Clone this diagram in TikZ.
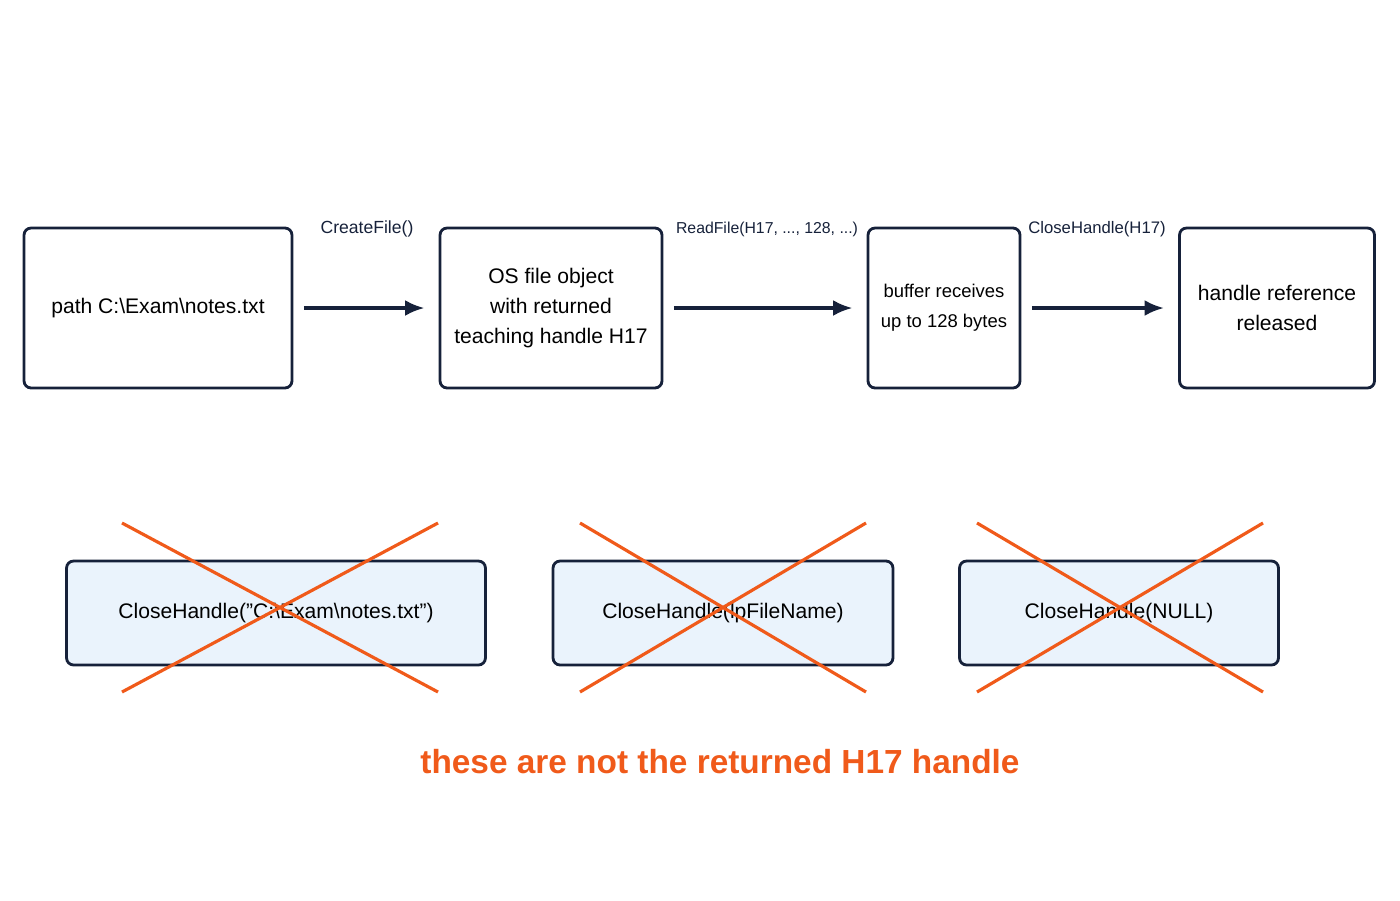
\documentclass[tikz,border=0pt]{standalone}
\usepackage{fontspec}
\setmainfont{Liberation Sans}
\usetikzlibrary{arrows.meta}
\definecolor{navy}{HTML}{16213A}
\definecolor{paleblue}{HTML}{EAF3FC}
\definecolor{crossred}{HTML}{F05A1A}
\begin{document}
\begin{tikzpicture}[
	x=0.02cm, y=-0.02cm,
	stage/.style={
		rectangle,
		rounded corners=4pt,
		draw=navy,
		line width=1.6pt,
		inner sep=1pt,
		text centered,
		align=center,
		font=\fontsize{12}{17}\selectfont
		},
	wrong/.style={
		stage,
		fill=paleblue,
		minimum height=2.08cm
	},
	call/.style={
		font=\fontsize{10}{12}\selectfont,
		text=navy
	},
	flow/.style={
		-{Latex[length=11pt,width=9pt]},
		draw=navy,
		line width=2pt,
		shorten <=6pt,
		shorten >=8pt
	},
	cross/.style={
		draw=crossred,
		line width=1.8pt
	}
]
\useasboundingbox (0,0) rectangle (1400,900);

% Flow boxes
\node [stage, minimum width=5.36cm, minimum height=3.2cm] (Path) at (158,308) {path C:\textbackslash Exam\textbackslash notes.txt};
\node [stage, minimum width=4.44cm, minimum height=3.2cm] (Object) at (551,308) {OS file object\\with returned\\teaching handle H17};
\node [stage, minimum width=3.04cm, minimum height=3.2cm, font=\fontsize{10.5}{17}\selectfont] (Buffer) at (944,308) {buffer receives\\up to 128 bytes};
\node [stage, minimum width=3.9cm, minimum height=3.2cm] (Released) at (1277,308) {handle reference\\released};

% Connectors
\draw [flow] (Path) -- (Object);
\draw [flow] (Object) -- (Buffer);
\draw [flow] (Buffer) -- (Released);

% Call labels
\node [call] (Create) at (367,229) {CreateFile()};
\node [call, font=\fontsize{9}{11}\selectfont] (Read) at (767,229) {ReadFile(H17, ..., 128, ...)};
\node [call, font=\fontsize{9.5}{11}\selectfont] (Close) at (1097,229) {CloseHandle(H17)};

% Wrong calls
\node [wrong, minimum width=8.38cm] (WrongPath) at (276,613) {CloseHandle(\symbol{34}C:\textbackslash Exam\textbackslash notes.txt\symbol{34})};
\node [wrong, minimum width=6.8cm] (WrongName) at (723,613) {CloseHandle(lpFileName)};
\node [wrong, minimum width=6.38cm] (WrongNull) at (1119,613) {CloseHandle(NULL)};

% Crosses
\foreach \cx/\w in {280/158, 723/143, 1120/143} {
	\draw [cross] (\cx-\w,523) -- (\cx+\w,692);
	\draw [cross] (\cx-\w,692) -- (\cx+\w,523);
}

\node [text=crossred, font=\bfseries\fontsize{19}{23}\selectfont] (Note) at (720,762) {these are not the returned H17 handle};
\end{tikzpicture}
\end{document}
